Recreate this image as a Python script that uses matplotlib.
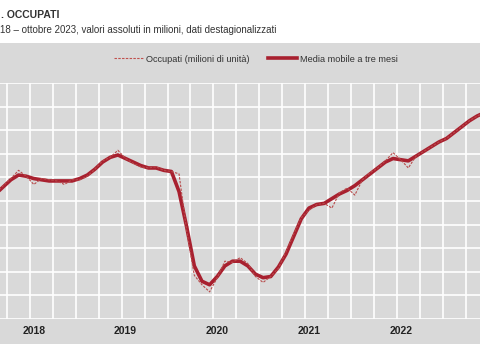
import numpy as np
import matplotlib
matplotlib.use("Agg")
import matplotlib.pyplot as plt
from matplotlib.patches import Rectangle
from matplotlib.lines import Line2D

plt.rcParams['font.family'] = ['Liberation Sans', 'DejaVu Sans']

# monthly data, gennaio 2018 - ottobre 2023 (milioni)
mesi = np.arange(70)
occupati = [22.81, 22.87, 22.93, 22.99, 23.06, 23.01, 22.94, 22.99, 22.98, 22.97,
            22.94, 22.98, 22.98, 23.01, 23.07, 23.14, 23.17, 23.23, 23.16, 23.12,
            23.09, 23.08, 23.09, 23.06, 23.05, 23.03, 22.55, 22.17, 22.09, 22.03,
            22.15, 22.29, 22.28, 22.32, 22.27, 22.16, 22.11, 22.16, 22.23, 22.37,
            22.52, 22.66, 22.72, 22.77, 22.78, 22.74, 22.87, 22.91, 22.85, 22.98,
            23.04, 23.08, 23.14, 23.21, 23.15, 23.08, 23.18, 23.22, 23.26, 23.30,
            23.33, 23.38, 23.43, 23.48, 23.52, 23.55, 23.58, 23.61, 23.63, 23.66]
media_mobile = [np.nan, 22.86, 22.92, 22.98, 23.02, 23.01, 22.99, 22.98, 22.97, 22.97,
                22.97, 22.97, 22.99, 23.02, 23.07, 23.13, 23.17, 23.19, 23.16, 23.13,
                23.10, 23.08, 23.08, 23.06, 23.05, 22.88, 22.58, 22.25, 22.12, 22.09,
                22.16, 22.25, 22.29, 22.29, 22.25, 22.18, 22.15, 22.16, 22.24, 22.35,
                22.50, 22.65, 22.74, 22.77, 22.78, 22.82, 22.86, 22.89, 22.93, 22.98,
                23.03, 23.08, 23.13, 23.16, 23.15, 23.14, 23.18, 23.22, 23.26, 23.30,
                23.33, 23.38, 23.43, 23.48, 23.52, 23.55, 23.58, 23.61, 23.63, np.nan]
anni = ['2018', '2019', '2020', '2021', '2022', '2023']

GRAY = '#d9d9d9'
RED = '#a8202f'

fig = plt.figure(figsize=(4.8, 3.6), dpi=100)
fig.patch.set_facecolor('white')

# gray panel behind chart
fig.patches.append(Rectangle((0, 1 - 344/360), 1, (344 - 43)/360,
                             transform=fig.transFigure, facecolor=GRAY,
                             edgecolor='none', zorder=-10))

ax = fig.add_axes([0, 1 - 319/360, 1, 236/360])
ax.set_zorder(2)
ax.set_facecolor(GRAY)
for s in ax.spines.values():
    s.set_visible(False)

ax.plot(mesi, media_mobile, color=RED, lw=2.6, solid_capstyle='round', zorder=3)
ax.plot(mesi, occupati, color='#b84a4a', lw=0.8, ls=(0, (2.2, 1.2)), zorder=4)

ax.set_yticks(np.arange(21.8, 23.81, 0.2))
ax.set_yticklabels([])
ax.set_xticks(np.arange(2.5, 70, 3), minor=True)
ax.set_xticks(np.arange(6, 70, 12))
ax.set_xticklabels(anni, fontsize=7.5, fontweight='bold', color='#222222')
# limits after ticks (set_xticks would widen them)
ax.set_xlim(1.575, 64.38)
ax.set_ylim(21.8, 23.8)
ax.tick_params(axis='both', which='both', length=0)
ax.tick_params(axis='x', pad=5)
ax.grid(True, axis='y', color='white', lw=1.2)
ax.grid(True, axis='x', which='minor', color='white', lw=1.2)
ax.grid(False, axis='x', which='major')
ax.set_axisbelow(True)

fig.text(1/480, 1 - 15/360, '. OCCUPATI', ha='left', va='center',
         fontsize=7.5, fontweight='bold', color='#333333')
fig.text(0.5/480, 1 - 30/360,
         '18 \u2013 ottobre 2023, valori assoluti in milioni, dati destagionalizzati',
         ha='left', va='center', fontsize=7, color='#333333')

handles = [Line2D([], [], color='#c0504d', lw=0.8, ls=(0, (2.2, 1.2))),
           Line2D([], [], color=RED, lw=2.6)]
fig.legend(handles, ['Occupati (milioni di unità)', 'Media mobile a tre mesi'],
           loc='center', bbox_to_anchor=(256/480, 1 - 59/360), ncol=2,
           frameon=False, fontsize=6.6, handlelength=3.2, handletextpad=0.3,
           columnspacing=2.0, labelcolor='#333333')

fig.savefig('out.png', dpi=100)
